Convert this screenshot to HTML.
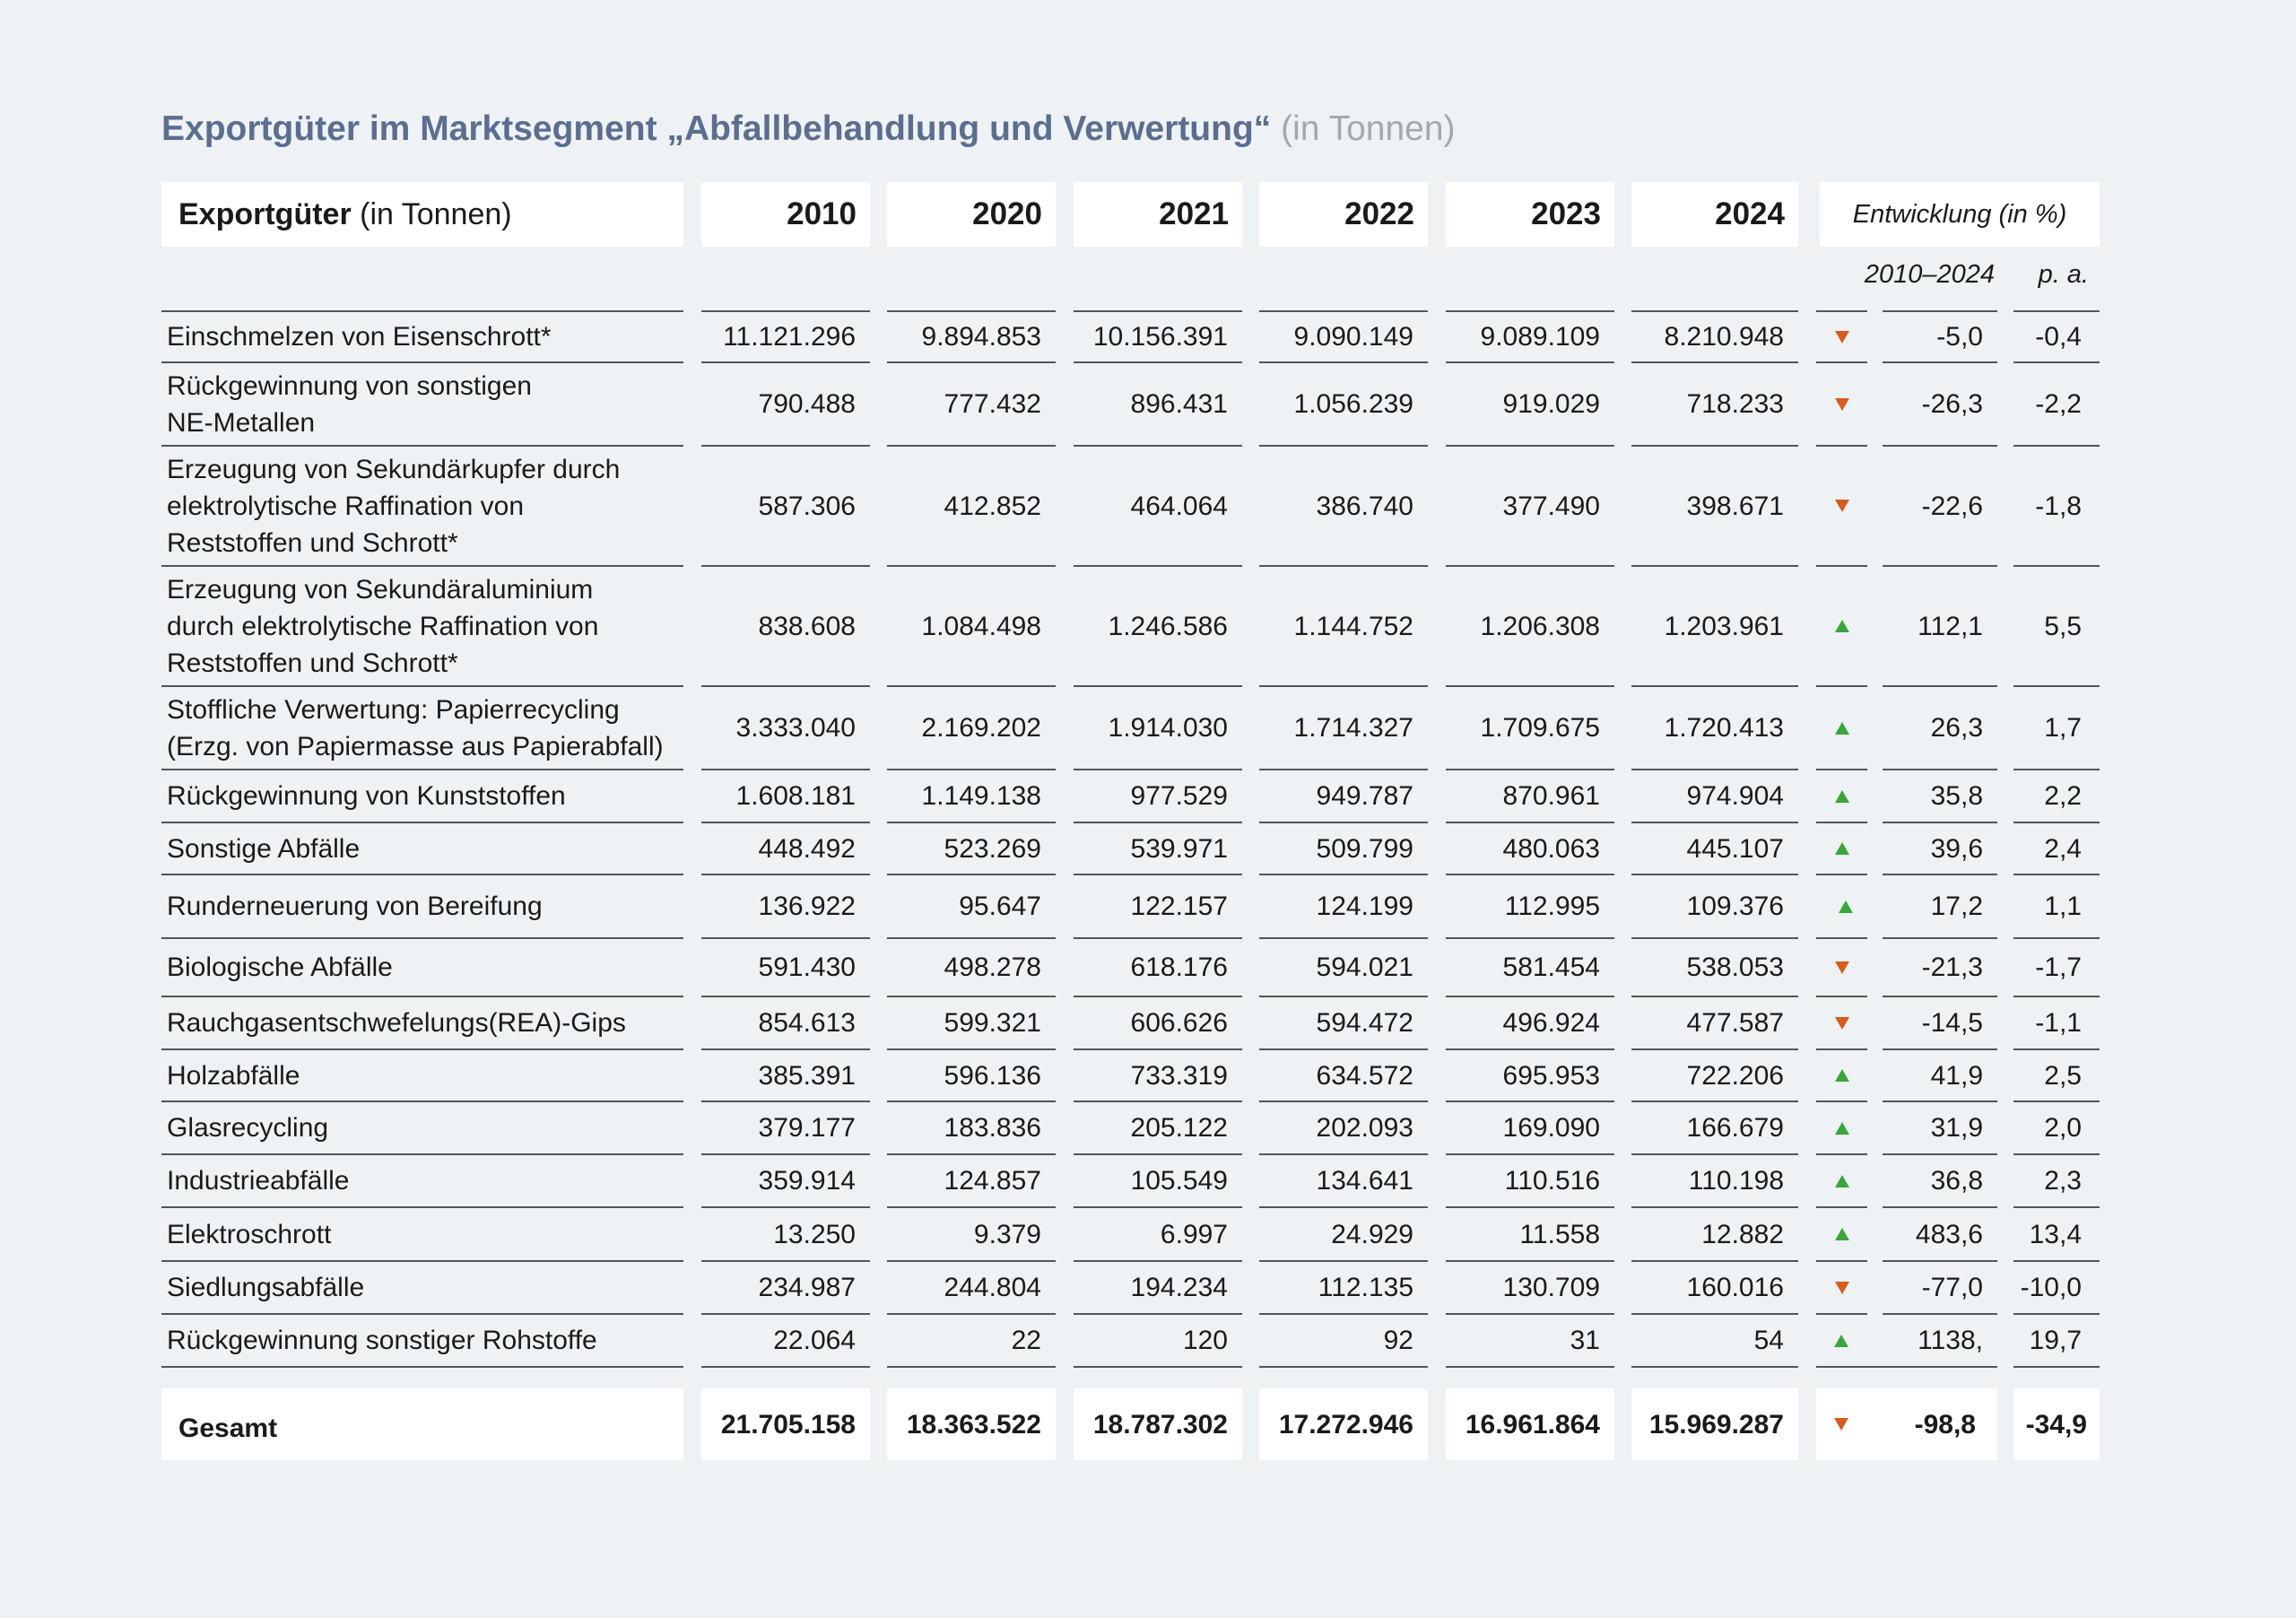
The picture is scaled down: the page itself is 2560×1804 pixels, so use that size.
<!DOCTYPE html>
<html><head><meta charset="utf-8">
<style>
*{margin:0;padding:0;box-sizing:border-box}
body{width:2560px;height:1804px;background:#eef2f5;font-family:"Liberation Sans",Arial,sans-serif;color:#1a1a1a;position:relative;overflow:hidden}
.t{position:absolute;left:180px;top:122px;font-size:39px;font-weight:bold;color:#5b6e8f;white-space:nowrap}
.t span{font-weight:normal;color:#a3a8ae}
.hb{position:absolute;top:203px;height:72px;background:#fff;display:flex;align-items:center;justify-content:flex-end;padding-right:15px;font-size:35px;font-weight:bold}
.r{position:absolute;left:0;width:2560px}
.c{position:absolute;top:0;bottom:0;border-bottom:2px solid #555;display:flex;align-items:center;justify-content:flex-end;padding-right:16px;font-size:30px;line-height:41px;white-space:nowrap}
.first .c{border-top:2px solid #555}
.l{justify-content:flex-start;padding-left:6px;padding-right:0}
.a{justify-content:center;padding-right:0}
.up{width:0;height:0;border-left:8px solid transparent;border-right:8px solid transparent;border-bottom:14px solid #3aa53a}
.dn{width:0;height:0;border-left:8px solid transparent;border-right:8px solid transparent;border-top:14px solid #d45d1f}
.c0{left:180px;width:582px}.c1{left:782px;width:188px}.c2{left:989px;width:188px}.c3{left:1197px;width:188px}.c4{left:1404px;width:188px}.c5{left:1612px;width:188px}.c6{left:1819px;width:186px}.c7{left:2025px;width:57px}.c8{left:2099px;width:128px}.c9{left:2245px;width:96px;padding-right:20px}
.g .c{border:none;background:#fff;font-weight:bold}
</style></head><body>
<div class="t">Exportgüter im Marktsegment „Abfallbehandlung und Verwertung“ <span>(in Tonnen)</span></div>
<div class="hb" style="left:180px;width:582px;justify-content:flex-start;padding-left:19px;font-size:34px">Exportgüter&nbsp;<span style="font-weight:normal">(in Tonnen)</span></div>
<div class="hb" style="left:782px;width:188px">2010</div>
<div class="hb" style="left:989px;width:188px">2020</div>
<div class="hb" style="left:1197px;width:188px">2021</div>
<div class="hb" style="left:1404px;width:188px">2022</div>
<div class="hb" style="left:1612px;width:188px">2023</div>
<div class="hb" style="left:1819px;width:186px">2024</div>
<div class="hb" style="left:2029px;width:312px;justify-content:center;padding-right:0;font-weight:normal;font-style:italic;font-size:29px">Entwicklung (in %)</div>
<div style="position:absolute;left:2060px;width:164px;top:290px;text-align:right;font-style:italic;font-size:29px">2010–2024</div>
<div style="position:absolute;left:2245px;width:84px;top:290px;text-align:right;font-style:italic;font-size:29px">p. a.</div>

<div class="r first" style="top:346px;height:59px"><div class="c c0 l">Einschmelzen von Eisenschrott*</div><div class="c c1">11.121.296</div><div class="c c2">9.894.853</div><div class="c c3">10.156.391</div><div class="c c4">9.090.149</div><div class="c c5">9.089.109</div><div class="c c6">8.210.948</div><div class="c c7 a"><i class="dn"></i></div><div class="c c8">-5,0</div><div class="c c9">-0,4</div></div>
<div class="r" style="top:405px;height:93px"><div class="c c0 l">Rückgewinnung von sonstigen<br>NE-Metallen</div><div class="c c1">790.488</div><div class="c c2">777.432</div><div class="c c3">896.431</div><div class="c c4">1.056.239</div><div class="c c5">919.029</div><div class="c c6">718.233</div><div class="c c7 a"><i class="dn"></i></div><div class="c c8">-26,3</div><div class="c c9">-2,2</div></div>
<div class="r" style="top:498px;height:134px"><div class="c c0 l">Erzeugung von Sekundärkupfer durch<br>elektrolytische Raffination von<br>Reststoffen und Schrott*</div><div class="c c1">587.306</div><div class="c c2">412.852</div><div class="c c3">464.064</div><div class="c c4">386.740</div><div class="c c5">377.490</div><div class="c c6">398.671</div><div class="c c7 a"><i class="dn"></i></div><div class="c c8">-22,6</div><div class="c c9">-1,8</div></div>
<div class="r" style="top:632px;height:134px"><div class="c c0 l">Erzeugung von Sekundäraluminium<br>durch elektrolytische Raffination von<br>Reststoffen und Schrott*</div><div class="c c1">838.608</div><div class="c c2">1.084.498</div><div class="c c3">1.246.586</div><div class="c c4">1.144.752</div><div class="c c5">1.206.308</div><div class="c c6">1.203.961</div><div class="c c7 a"><i class="up"></i></div><div class="c c8">112,1</div><div class="c c9">5,5</div></div>
<div class="r" style="top:766px;height:93px"><div class="c c0 l">Stoffliche Verwertung: Papierrecycling<br>(Erzg. von Papiermasse aus Papierabfall)</div><div class="c c1">3.333.040</div><div class="c c2">2.169.202</div><div class="c c3">1.914.030</div><div class="c c4">1.714.327</div><div class="c c5">1.709.675</div><div class="c c6">1.720.413</div><div class="c c7 a"><i class="up"></i></div><div class="c c8">26,3</div><div class="c c9">1,7</div></div>
<div class="r" style="top:859px;height:59px"><div class="c c0 l">Rückgewinnung von Kunststoffen</div><div class="c c1">1.608.181</div><div class="c c2">1.149.138</div><div class="c c3">977.529</div><div class="c c4">949.787</div><div class="c c5">870.961</div><div class="c c6">974.904</div><div class="c c7 a"><i class="up"></i></div><div class="c c8">35,8</div><div class="c c9">2,2</div></div>
<div class="r" style="top:918px;height:58px"><div class="c c0 l">Sonstige Abfälle</div><div class="c c1">448.492</div><div class="c c2">523.269</div><div class="c c3">539.971</div><div class="c c4">509.799</div><div class="c c5">480.063</div><div class="c c6">445.107</div><div class="c c7 a"><i class="up"></i></div><div class="c c8">39,6</div><div class="c c9">2,4</div></div>
<div class="r" style="top:976px;height:71px"><div class="c c0 l">Runderneuerung von Bereifung</div><div class="c c1">136.922</div><div class="c c2">95.647</div><div class="c c3">122.157</div><div class="c c4">124.199</div><div class="c c5">112.995</div><div class="c c6">109.376</div><div class="c c7 a"><i class="up" style="margin-left:8px"></i></div><div class="c c8">17,2</div><div class="c c9">1,1</div></div>
<div class="r" style="top:1047px;height:65px"><div class="c c0 l">Biologische Abfälle</div><div class="c c1">591.430</div><div class="c c2">498.278</div><div class="c c3">618.176</div><div class="c c4">594.021</div><div class="c c5">581.454</div><div class="c c6">538.053</div><div class="c c7 a"><i class="dn"></i></div><div class="c c8">-21,3</div><div class="c c9">-1,7</div></div>
<div class="r" style="top:1112px;height:59px"><div class="c c0 l">Rauchgasentschwefelungs(REA)-Gips</div><div class="c c1">854.613</div><div class="c c2">599.321</div><div class="c c3">606.626</div><div class="c c4">594.472</div><div class="c c5">496.924</div><div class="c c6">477.587</div><div class="c c7 a"><i class="dn"></i></div><div class="c c8">-14,5</div><div class="c c9">-1,1</div></div>
<div class="r" style="top:1171px;height:58px"><div class="c c0 l">Holzabfälle</div><div class="c c1">385.391</div><div class="c c2">596.136</div><div class="c c3">733.319</div><div class="c c4">634.572</div><div class="c c5">695.953</div><div class="c c6">722.206</div><div class="c c7 a"><i class="up"></i></div><div class="c c8">41,9</div><div class="c c9">2,5</div></div>
<div class="r" style="top:1229px;height:59px"><div class="c c0 l">Glasrecycling</div><div class="c c1">379.177</div><div class="c c2">183.836</div><div class="c c3">205.122</div><div class="c c4">202.093</div><div class="c c5">169.090</div><div class="c c6">166.679</div><div class="c c7 a"><i class="up"></i></div><div class="c c8">31,9</div><div class="c c9">2,0</div></div>
<div class="r" style="top:1288px;height:59px"><div class="c c0 l">Industrieabfälle</div><div class="c c1">359.914</div><div class="c c2">124.857</div><div class="c c3">105.549</div><div class="c c4">134.641</div><div class="c c5">110.516</div><div class="c c6">110.198</div><div class="c c7 a"><i class="up"></i></div><div class="c c8">36,8</div><div class="c c9">2,3</div></div>
<div class="r" style="top:1347px;height:60px"><div class="c c0 l">Elektroschrott</div><div class="c c1">13.250</div><div class="c c2">9.379</div><div class="c c3">6.997</div><div class="c c4">24.929</div><div class="c c5">11.558</div><div class="c c6">12.882</div><div class="c c7 a"><i class="up"></i></div><div class="c c8">483,6</div><div class="c c9">13,4</div></div>
<div class="r" style="top:1407px;height:59px"><div class="c c0 l">Siedlungsabfälle</div><div class="c c1">234.987</div><div class="c c2">244.804</div><div class="c c3">194.234</div><div class="c c4">112.135</div><div class="c c5">130.709</div><div class="c c6">160.016</div><div class="c c7 a"><i class="dn"></i></div><div class="c c8">-77,0</div><div class="c c9">-10,0</div></div>
<div class="r" style="top:1466px;height:59px"><div class="c c0 l">Rückgewinnung sonstiger Rohstoffe</div><div class="c c1">22.064</div><div class="c c2">22</div><div class="c c3">120</div><div class="c c4">92</div><div class="c c5">31</div><div class="c c6">54</div><div class="c c7 a" style="width:74px;justify-content:flex-start;padding-left:20px"><i class="up"></i></div><div class="c c8">1138,</div><div class="c c9">19,7</div></div>

<div class="r g" style="top:1548px;height:80px"><div class="c c0 l" style="padding-left:19px;padding-top:8px">Gesamt</div><div class="c c1">21.705.158</div><div class="c c2">18.363.522</div><div class="c c3">18.787.302</div><div class="c c4">17.272.946</div><div class="c c5">16.961.864</div><div class="c c6">15.969.287</div><div class="c" style="left:2025px;width:202px;justify-content:space-between;padding-left:20px;padding-right:24px"><i class="dn"></i><span>-98,8</span></div><div class="c c9" style="padding-right:14px">-34,9</div></div>
</body></html>
